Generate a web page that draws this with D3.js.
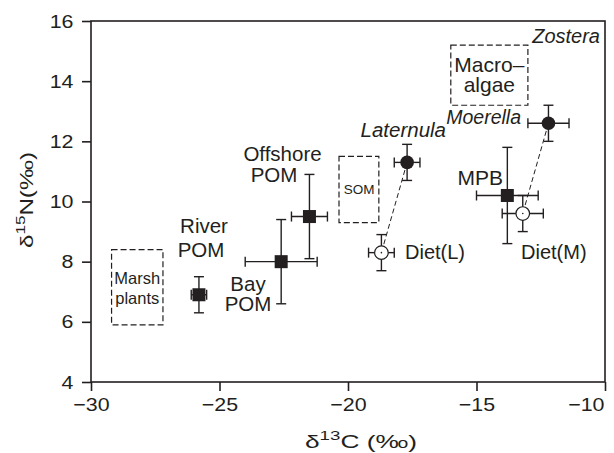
<!DOCTYPE html>
<html><head><meta charset="utf-8">
<script src="https://cdn.jsdelivr.net/npm/d3@7"></script>
<style>body{margin:0;background:#fff}svg{font-family:"Liberation Sans",Arial,sans-serif}</style>
</head><body>
<svg id="c" width="614" height="453"></svg>
<script>
// Data
const pointNames = ["River POM","Bay POM","Offshore POM","MPB","Laternula","Moerella","Diet(L)","Diet(M)"];
const pointType  = ["square","square","square","square","filled","filled","open","open"];
const d13C   = [-25.8,-22.6,-21.5,-13.8,-17.7,-12.2,-18.7,-13.2];
const d13Cerr= [0.3,1.4,0.7,1.2,0.5,0.8,0.5,0.8];
const d15N   = [6.9,8.0,9.5,10.2,11.3,12.6,8.3,9.6];
const d15Nerr= [0.6,1.4,1.4,1.6,0.6,0.6,0.6,0.6];
const links = [["Laternula","Diet(L)"],["Moerella","Diet(M)"]];
const boxNames = ["Marsh plants","SOM","Macroalgae"];
const boxX0 = [-29.2,-20.35,-16.0];
const boxX1 = [-27.2,-18.8,-13.0];
const boxY0 = [5.9,9.3,13.2];
const boxY1 = [8.4,11.5,15.2];
const xTicks = [-30,-25,-20,-15,-10];
const yTicks = [4,6,8,10,12,14,16];

const svg = d3.select("#c");
const L=91,R=605,T=21,B=382;
const ink="#231f20";
const x = d3.scaleLinear().domain([-30,-10]).range([L,R]);
const y = d3.scaleLinear().domain([4,16]).range([B,T]);

function stretch(sel,f){
  sel.each(function(){
    const w=this.getComputedTextLength();
    d3.select(this).attr("textLength",w*f).attr("lengthAdjust","spacingAndGlyphs");
  });
}

// frame
svg.append("rect").attr("x",L).attr("y",T).attr("width",R-L).attr("height",B-T)
  .attr("fill","none").attr("stroke",ink).attr("stroke-width",1.6);

const xa = svg.append("g").attr("transform",`translate(0,${B})`)
  .call(d3.axisBottom(x).tickValues(xTicks).tickSize(9).tickPadding(7).tickFormat(d=>d<0?"\u2212"+Math.abs(d):d));
const ya = svg.append("g").attr("transform",`translate(${L},0)`)
  .call(d3.axisLeft(y).tickValues(yTicks).tickSize(9).tickPadding(8.5));
[xa,ya].forEach(a=>{
  a.select(".domain").remove();
  a.selectAll("line").attr("stroke",ink).attr("stroke-width",1.6);
  a.selectAll("text").attr("font-size",18.8).attr("fill",ink).attr("font-family","Liberation Sans, Arial, sans-serif");
  stretch(a.selectAll("text"),1.14);
});
xa.selectAll("text").filter(d=>d===-10).attr("text-anchor","end").attr("dx",-1);

// axis titles
const xt = svg.append("text").attr("x",305).attr("y",448).attr("font-size",19).attr("fill",ink);
xt.append("tspan").text("\u03b4");
xt.append("tspan").attr("font-size",13.5).attr("dy",-8).text("13");
xt.append("tspan").attr("dy",8).text("C (%");
xt.append("tspan").attr("font-size",14).attr("dx",-1).text("o");
xt.append("tspan").text(")");
xt.attr("textLength",112).attr("lengthAdjust","spacingAndGlyphs");
const yt = svg.append("text").attr("transform","translate(33,248) rotate(-90)").attr("font-size",19).attr("fill",ink);
yt.append("tspan").text("\u03b4");
yt.append("tspan").attr("font-size",13.5).attr("dy",-8).text("15");
yt.append("tspan").attr("dy",8).text("N(%");
yt.append("tspan").attr("font-size",14).attr("dx",-1).text("o");
yt.append("tspan").text(")");
yt.attr("textLength",96).attr("lengthAdjust","spacingAndGlyphs");

// dashed boxes
boxNames.forEach((n,i)=>{
  svg.append("rect").attr("x",x(boxX0[i])).attr("y",y(boxY1[i]))
    .attr("width",x(boxX1[i])-x(boxX0[i])).attr("height",y(boxY0[i])-y(boxY1[i]))
    .attr("fill","none").attr("stroke",ink).attr("stroke-width",1.2).attr("stroke-dasharray","6,3");
});

// dashed links
const idx = n=>pointNames.indexOf(n);
links.forEach(([a,b])=>{
  svg.append("line").attr("x1",x(d13C[idx(a)])).attr("y1",y(d15N[idx(a)]))
    .attr("x2",x(d13C[idx(b)])).attr("y2",y(d15N[idx(b)]))
    .attr("stroke",ink).attr("stroke-width",1).attr("stroke-dasharray","5,3");
});

// error bars
const cap=5;
pointNames.forEach((n,i)=>{
  const g = svg.append("g").attr("stroke",ink).attr("stroke-width",1.4);
  const cx=x(d13C[i]), cy=y(d15N[i]);
  const x0=x(d13C[i]-d13Cerr[i]), x1=x(d13C[i]+d13Cerr[i]);
  const y0=y(d15N[i]-d15Nerr[i]), y1=y(d15N[i]+d15Nerr[i]);
  g.append("line").attr("x1",x0).attr("x2",x1).attr("y1",cy).attr("y2",cy);
  g.append("line").attr("x1",x0).attr("x2",x0).attr("y1",cy-cap).attr("y2",cy+cap);
  g.append("line").attr("x1",x1).attr("x2",x1).attr("y1",cy-cap).attr("y2",cy+cap);
  g.append("line").attr("x1",cx).attr("x2",cx).attr("y1",y0).attr("y2",y1);
  g.append("line").attr("x1",cx-cap).attr("x2",cx+cap).attr("y1",y0).attr("y2",y0);
  g.append("line").attr("x1",cx-cap).attr("x2",cx+cap).attr("y1",y1).attr("y2",y1);
});

// markers
pointNames.forEach((n,i)=>{
  const cx=x(d13C[i]), cy=y(d15N[i]);
  if(pointType[i]==="square"){
    svg.append("rect").attr("x",cx-6.5).attr("y",cy-6.5).attr("width",13).attr("height",13).attr("fill",ink);
  } else if(pointType[i]==="filled"){
    svg.append("circle").attr("cx",cx).attr("cy",cy).attr("r",6.8).attr("fill",ink);
  } else {
    svg.append("circle").attr("cx",cx).attr("cy",cy).attr("r",6.8).attr("fill","#fff").attr("stroke",ink).attr("stroke-width",1.2);
    svg.append("circle").attr("cx",cx).attr("cy",cy).attr("r",0.8).attr("fill",ink);
  }
});

// labels
function lab(lines,px,py,opts={}){
  const t=svg.append("text").attr("x",px).attr("y",py).attr("font-size",opts.size||20)
    .attr("text-anchor",opts.anchor||"middle").attr("fill",ink);
  if(opts.italic) t.attr("font-style","italic");
  lines.forEach((s,k)=>t.append("tspan").attr("x",px+((opts.dxs||[])[k]||0)).attr("dy",k?(opts.lh||21):0).text(s));
}
lab(["Offshore","POM"],282.5,161,{size:20.5,lh:21,dxs:[0,-8.5]});
lab(["River","POM"],204,233,{size:20.5,lh:24,dxs:[0,-3]});
lab(["Bay","POM"],248,291,{size:20.5,lh:20});
lab(["Marsh","plants"],x(-28.2),284,{size:16.5,lh:20});
lab(["SOM"],x(-19.57),194,{size:13.5});
lab(["Macro\u2013","algae"],x(-14.5),72,{size:21,lh:20});
lab(["Zostera"],600,43,{anchor:"end",italic:true,size:20});
lab(["Moerella"],521,124,{anchor:"end",italic:true,size:19.5});
lab(["Laternula"],446,137,{anchor:"end",italic:true,size:20.5});
lab(["MPB"],503,185,{anchor:"end",size:21});
lab(["Diet(L)"],405,259,{anchor:"start",size:20});
lab(["Diet(M)"],521,259,{anchor:"start",size:20});
</script>
</body></html>
